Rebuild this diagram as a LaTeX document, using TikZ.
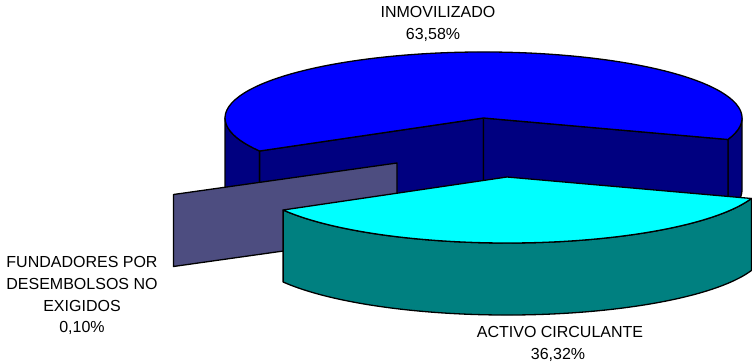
\documentclass[tikz,border=0pt]{standalone}
\usepackage{fontspec}
\setmainfont{Liberation Sans}
\usetikzlibrary{calc}
\definecolor{topblue}{HTML}{0000FF}
\definecolor{sideblue}{HTML}{000080}
\definecolor{topcyan}{HTML}{00FFFF}
\definecolor{sidecyan}{HTML}{008080}
\definecolor{sideslate}{HTML}{4D4D80}
\begin{document}
\begin{tikzpicture}[x=1pt,y=-1pt,
  face/.style={draw=black,line width=1.3pt,line join=round},
  ell/.style={x radius=258.5pt,y radius=66pt},
  lbl/.style={anchor=base,inner sep=0pt,font=\fontsize{16}{19}\selectfont}]
\useasboundingbox (0,0) rectangle (752,363);
\coordinate (C) at (483.5,118);
\coordinate (K) at (507,177);
% ---- INMOVILIZADO slice (back) ----
\filldraw[face,fill=sideblue] ($(C)+(180:258.5pt and 66pt)$) arc[start angle=180,end angle=210,ell] -- ++(0,72) arc[start angle=210,end angle=180,ell] -- cycle;
\filldraw[face,fill=sideblue] ($(C)+(-19:258.5pt and 66pt)$) arc[start angle=-19,end angle=0,ell] -- ++(0,72) arc[start angle=0,end angle=-19,ell] -- cycle;
\filldraw[face,fill=sideblue] (C) -- ($(C)+(210:258.5pt and 66pt)$) -- ++(0,72) -- ($(C)+(0,72)$) -- cycle;
\filldraw[face,fill=sideblue] (C) -- ($(C)+(-19:258.5pt and 66pt)$) -- ++(0,72) -- ($(C)+(0,72)$) -- cycle;
\filldraw[face,fill=topblue] (C) -- ($(C)+(-19:258.5pt and 66pt)$) arc[start angle=-19,end angle=210,ell] -- cycle;
% ---- FUNDADORES slice (cut face) ----
\filldraw[face,fill=sideslate] (397,163) -- (173.5,194.5) -- (173.5,266.5) -- (397,235) -- cycle;
% ---- ACTIVO CIRCULANTE slice (front, exploded) ----
\filldraw[face,fill=sidecyan] ($(K)+(210:258.5pt and 66pt)$) arc[start angle=210,end angle=341,ell] -- ++(0,72) arc[start angle=341,end angle=210,ell] -- cycle;
\filldraw[face,fill=topcyan] (K) -- ($(K)+(210:258.5pt and 66pt)$) arc[start angle=210,end angle=341,ell] -- cycle;
% ---- labels ----
\node[lbl] (inm1) at (438,18) {INMOVILIZADO};
\node[lbl] (inm2) at (433,39.5) {63,58\%};
\node[lbl] (fun1) at (82,268) {FUNDADORES POR};
\node[lbl] (fun2) at (82,289.5) {DESEMBOLSOS NO};
\node[lbl] (fun3) at (82,311) {EXIGIDOS};
\node[lbl] (fun4) at (82,332.5) {0,10\%};
\node[lbl] (act1) at (560,337.5) {ACTIVO CIRCULANTE};
\node[lbl] (act2) at (558,359) {36,32\%};
\end{tikzpicture}
\end{document}
